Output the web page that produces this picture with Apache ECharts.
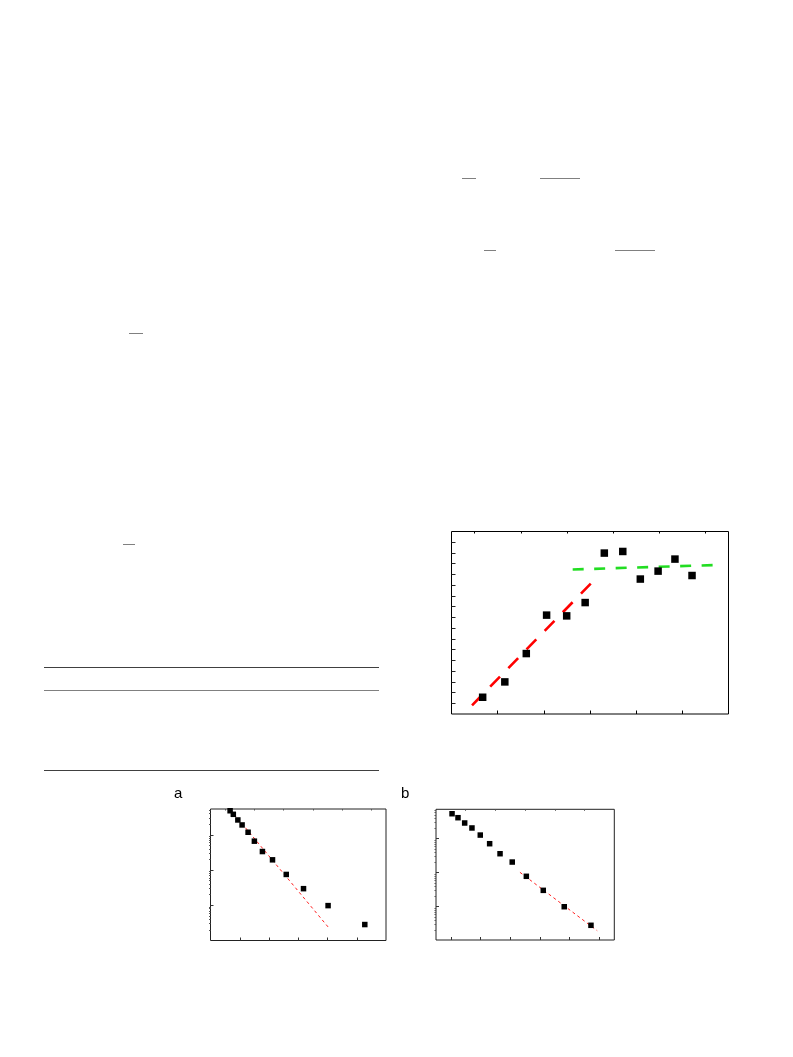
<!DOCTYPE html>
<html>
<head>
<meta charset="utf-8">
<script src="https://cdn.jsdelivr.net/npm/echarts@6/dist/echarts.min.js"></script>
<style>
html,body{margin:0;padding:0;background:#fff;}
#c{width:793px;height:1057px;}
</style>
</head>
<body>
<div id="c"></div>
<script>
// ---- Main chart (top right) ----
const mainX = [1.35, 2.31, 3.24, 4.12, 4.99, 5.79, 6.62, 7.42, 8.18, 8.95, 9.68, 10.42];
const mainY = [1.56, 2.99, 5.63, 9.21, 9.14, 10.38, 14.99, 15.14, 12.57, 13.31, 14.43, 12.90];
const redFitX = [0.89, 6.12];
const redFitY = [0.81, 12.34];
const greenFitX = [5.25, 11.32];
const greenFitY = [13.46, 13.87];
const mainXMajorTicks = [2, 4, 6, 8, 10];
const mainXMinorTicks = [1, 3, 5, 7, 9, 11];
const mainYTicks = [1, 2, 3, 4, 5, 6, 7, 8, 9, 10, 11, 12, 13, 14, 15, 16];

// ---- Panel a ----
const aX = [1.34, 1.56, 1.87, 2.16, 2.57, 3.00, 3.55, 4.24, 5.18, 6.36, 8.04, 10.55];
const aY = [0.486, 0.385, 0.266, 0.192, 0.119, 0.0664, 0.0337, 0.0196, 0.00753, 0.00297, 0.00098, 0.000284];
const aFitX = [1.34, 8.13];
const aFitY = [0.533, 0.000219];
const aXMajorTicks = [2, 4, 6, 8, 10];
const aXMinorTicks = [1, 3, 5, 7, 9, 11];

// ---- Panel b ----
const bX = [1.08, 1.48, 1.93, 2.42, 2.98, 3.61, 4.31, 5.13, 6.08, 7.22, 8.63, 10.43];
const bY = [0.543, 0.415, 0.290, 0.207, 0.128, 0.0713, 0.0362, 0.0206, 0.00784, 0.00303, 0.00100, 0.000284];
const bFitX = [5.65, 10.85];
const bFitY = [0.01028, 0.000197];
const bXMajorTicks = [1, 3, 5, 7, 9, 11];
const bXMinorTicks = [2, 4, 6, 8, 10];

const logMajorTicks = [0.001, 0.01, 0.1];
const logDecades = [0.0001, 0.001, 0.01, 0.1];
const logMinorMult = [2, 3, 4, 5, 6, 7, 8, 9];

function minorLog(maxV) {
  const out = [];
  logDecades.forEach(d => logMinorMult.forEach(m => { const v = d * m; if (v < maxV) out.push(+v.toPrecision(3)); }));
  return out;
}
function pairs(xs, ys) { return xs.map((x, i) => [x, ys[i]]); }

function tickAxis(gridIndex, extra) {
  return Object.assign({
    gridIndex: gridIndex,
    axisLine: {show: false},
    axisLabel: {show: false},
    splitLine: {show: false},
    axisTick: {show: true, inside: true, length: 3, lineStyle: {color: '#000', width: 1}}
  }, extra);
}

const chart = echarts.init(document.getElementById('c'), null, {renderer: 'canvas'});

const option = {
  animation: false,
  backgroundColor: '#fff',
  grid: [
    {left: 451.5, top: 531.5, width: 277, height: 182.5, show: true, borderColor: '#000', borderWidth: 1, backgroundColor: 'transparent'},
    {left: 210.5, top: 809, width: 175.5, height: 131.5, show: true, borderColor: '#222', borderWidth: 1, backgroundColor: 'transparent'},
    {left: 436, top: 809.3, width: 178.3, height: 130.7, show: true, borderColor: '#222', borderWidth: 1, backgroundColor: 'transparent'}
  ],
  xAxis: [
    tickAxis(0, {type: 'value', min: 0, max: 12, axisTick: {show: true, inside: true, length: 3.5, customValues: mainXMajorTicks, lineStyle: {color: '#000'}}}),
    tickAxis(0, {type: 'value', min: 0, max: 12, axisTick: {show: true, inside: true, length: 2, customValues: mainXMinorTicks, lineStyle: {color: '#000'}}}),
    tickAxis(1, {type: 'value', min: 0, max: 12, axisTick: {show: true, inside: true, length: 3, customValues: aXMajorTicks, lineStyle: {color: '#333'}}}),
    tickAxis(1, {type: 'value', min: 0, max: 12, axisTick: {show: true, inside: true, length: 1.5, customValues: aXMinorTicks, lineStyle: {color: '#555'}}}),
    tickAxis(2, {type: 'value', min: 0, max: 12, axisTick: {show: true, inside: true, length: 3, customValues: bXMajorTicks, lineStyle: {color: '#333'}}}),
    tickAxis(2, {type: 'value', min: 0, max: 12, axisTick: {show: true, inside: true, length: 1.5, customValues: bXMinorTicks, lineStyle: {color: '#555'}}})
  ],
  yAxis: [
    tickAxis(0, {type: 'value', min: 0, max: 17, axisTick: {show: true, inside: true, length: 4, customValues: mainYTicks, lineStyle: {color: '#222'}}}),
    tickAxis(1, {type: 'log', logBase: 10, min: 0.0001, max: 0.545, axisTick: {show: true, inside: true, length: 3, customValues: logMajorTicks, lineStyle: {color: '#333'}}}),
    tickAxis(1, {type: 'log', logBase: 10, min: 0.0001, max: 0.545, axisTick: {show: true, inside: true, length: 1.5, customValues: minorLog(0.545), lineStyle: {color: '#555'}}}),
    tickAxis(2, {type: 'log', logBase: 10, min: 0.000105, max: 0.733, axisTick: {show: true, inside: true, length: 3, customValues: logMajorTicks, lineStyle: {color: '#333'}}}),
    tickAxis(2, {type: 'log', logBase: 10, min: 0.000105, max: 0.733, axisTick: {show: true, inside: true, length: 1.5, customValues: minorLog(0.733), lineStyle: {color: '#555'}}})
  ],
  series: [
    {type: 'line', xAxisIndex: 0, yAxisIndex: 0, data: pairs(redFitX, redFitY), symbol: 'none', lineStyle: {color: '#ff0000', width: 2.6, type: [14, 12]}, z: 2},
    {type: 'line', xAxisIndex: 0, yAxisIndex: 0, data: pairs(greenFitX, greenFitY), symbol: 'none', lineStyle: {color: '#22dd22', width: 2.6, type: [11, 10.5]}, z: 2},
    {type: 'scatter', xAxisIndex: 0, yAxisIndex: 0, data: pairs(mainX, mainY), symbol: 'rect', symbolSize: 7.5, itemStyle: {color: '#000', opacity: 1}, z: 3},
    {type: 'line', xAxisIndex: 2, yAxisIndex: 1, data: pairs(aFitX, aFitY), symbol: 'none', lineStyle: {color: '#ff2020', width: 1, type: [3, 3]}, z: 2},
    {type: 'scatter', xAxisIndex: 2, yAxisIndex: 1, data: pairs(aX, aY), symbol: 'rect', symbolSize: 5.5, itemStyle: {color: '#000', opacity: 1}, z: 3},
    {type: 'line', xAxisIndex: 4, yAxisIndex: 3, data: pairs(bFitX, bFitY), symbol: 'none', lineStyle: {color: '#ff2020', width: 1, type: [3, 3]}, z: 2},
    {type: 'scatter', xAxisIndex: 4, yAxisIndex: 3, data: pairs(bX, bY), symbol: 'rect', symbolSize: 5.5, itemStyle: {color: '#000', opacity: 1}, z: 3}
  ],
  graphic: [
    {type: 'text', left: 174, top: 786, style: {text: 'a', font: '15px "Liberation Sans", Arial, sans-serif', fill: '#000'}},
    {type: 'text', left: 401, top: 786, style: {text: 'b', font: '15px "Liberation Sans", Arial, sans-serif', fill: '#000'}},
    // table rules
    {type: 'line', shape: {x1: 44, y1: 667.5, x2: 379, y2: 667.5}, style: {stroke: '#404040', lineWidth: 1}},
    {type: 'line', shape: {x1: 44, y1: 690.5, x2: 379, y2: 690.5}, style: {stroke: '#808080', lineWidth: 1}},
    {type: 'line', shape: {x1: 44, y1: 770.5, x2: 379, y2: 770.5}, style: {stroke: '#404040', lineWidth: 1}},
    // fraction bars
    {type: 'line', shape: {x1: 462, y1: 178.5, x2: 476, y2: 178.5}, style: {stroke: '#808080', lineWidth: 1}},
    {type: 'line', shape: {x1: 540, y1: 178.5, x2: 580, y2: 178.5}, style: {stroke: '#808080', lineWidth: 1}},
    {type: 'line', shape: {x1: 484, y1: 250.5, x2: 496, y2: 250.5}, style: {stroke: '#808080', lineWidth: 1}},
    {type: 'line', shape: {x1: 615, y1: 250.5, x2: 655, y2: 250.5}, style: {stroke: '#808080', lineWidth: 1}},
    {type: 'line', shape: {x1: 129, y1: 333.5, x2: 143, y2: 333.5}, style: {stroke: '#808080', lineWidth: 1}},
    {type: 'line', shape: {x1: 123, y1: 544.5, x2: 135, y2: 544.5}, style: {stroke: '#808080', lineWidth: 1}}
  ]
};
chart.setOption(option);
</script>
</body>
</html>
